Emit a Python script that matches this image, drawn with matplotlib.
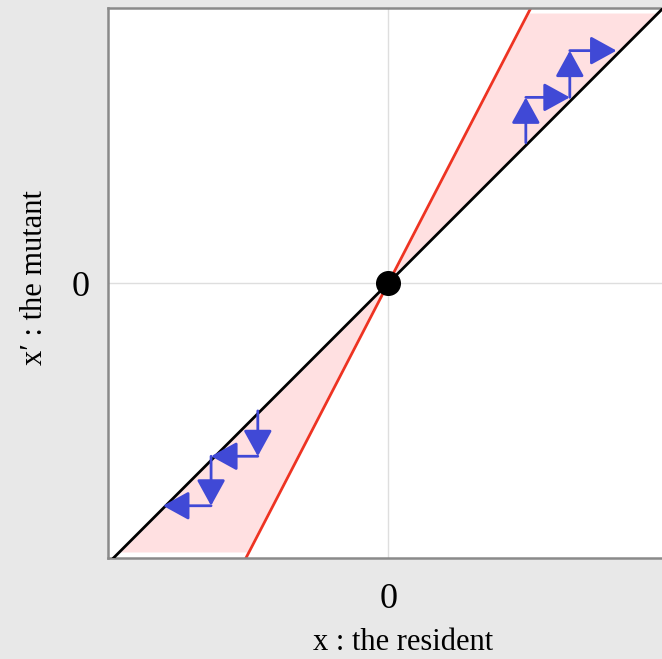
import matplotlib.pyplot as plt

# invasion picture: resident x vs mutant x'
slope_red = 1.93          # boundary line x' = slope_red * x
y_bound = 0.985           # where the pink region stops

# staircase arrows (upper right and lower left)
up_x = [0.50, 0.50, 0.66, 0.66, 0.83]
up_y = [0.51, 0.675, 0.675, 0.845, 0.845]
low_x = [-0.475, -0.475, -0.645, -0.645, -0.82]
low_y = [-0.465, -0.63, -0.63, -0.81, -0.81]

tick_pos = [0]
tick_lab = ['0']

plt.rcParams['font.family'] = ['Liberation Serif', 'DejaVu Serif']

fig = plt.figure(figsize=(6.62, 6.59), dpi=100, facecolor='#e8e8e8')
ax = fig.add_axes([108/662, 101/659, 591/662, 550/659])
ax.set_facecolor('white')
ax.set_xlim(-1.02, 1.13)
ax.set_ylim(-1, 1)

for s in ax.spines.values():
    s.set_color('#8a8a8a')
    s.set_linewidth(1.8)

ax.axvline(0, color='#dedede', lw=1, zorder=0)
ax.axhline(0, color='#dedede', lw=1, zorder=0)

# pink region between x'=x and x'=slope*x
poly_x = [0, y_bound / slope_red, y_bound, 0, -y_bound, -y_bound / slope_red]
poly_y = [0, y_bound, y_bound, 0, -y_bound, -y_bound]
ax.fill(poly_x[:3], poly_y[:3], facecolor='#ffe0e1', edgecolor='white', lw=2, zorder=1)
ax.fill(poly_x[3:], poly_y[3:], facecolor='#ffe0e1', edgecolor='white', lw=2, zorder=1)

ax.plot([-1.2, 1.2], [-1.2, 1.2], color='black', lw=2, zorder=3)
ax.plot([-1.2 / slope_red, 1.2 / slope_red], [-1.2, 1.2], color='#ee3322', lw=2, zorder=2)

blue = '#4049d6'
for xs, ys in [(up_x, up_y), (low_x, low_y)]:
    for i in range(len(xs) - 1):
        ax.annotate('', xy=(xs[i+1], ys[i+1]), xytext=(xs[i], ys[i]),
                    arrowprops=dict(arrowstyle='-|>,head_length=0.4,head_width=0.22',
                                    color=blue, lw=2,
                                    mutation_scale=40, shrinkA=0, shrinkB=0),
                    zorder=4)

ax.plot([0], [0], 'o', color='black', markersize=17, zorder=5)

ax.set_xticks(tick_pos)
ax.set_xticklabels(tick_lab)
ax.set_yticks(tick_pos)
ax.set_yticklabels(tick_lab)
ax.tick_params(length=0, labelsize=26)
ax.tick_params(axis='x', pad=18)
ax.tick_params(axis='y', pad=13)

ax.set_xlabel('x : the resident', fontsize=22)
ax.xaxis.set_label_coords(0.5, -0.127)
ax.set_ylabel('x\u2032 : the mutant', fontsize=22)
ax.yaxis.set_label_coords(-0.1, 0.51)

fig.savefig('out.png', dpi=100, facecolor=fig.get_facecolor())
